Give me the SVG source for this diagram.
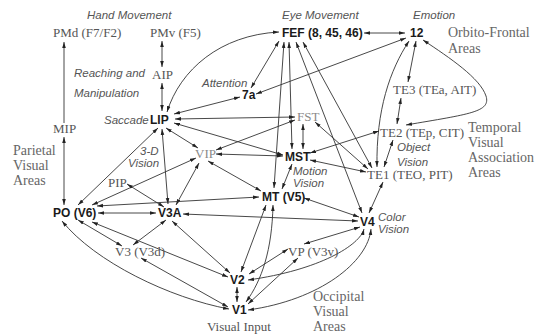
<svg xmlns="http://www.w3.org/2000/svg" width="535" height="335" viewBox="0 0 535 335">
<style>
.b{font-family:"Liberation Sans",Arial,sans-serif;font-weight:bold;font-size:12px;fill:#1a1a1a}
.s{font-family:"Liberation Serif","Times New Roman",serif;font-size:13px;fill:#555}
.l{fill:#8a8a8a}
.i{font-family:"Liberation Sans",Arial,sans-serif;font-style:italic;font-size:11.5px;fill:#555}
.r{font-family:"Liberation Serif","Times New Roman",serif;font-size:14px;fill:#666}
.e{fill:none;stroke:#333;stroke-width:0.9;marker-start:url(#a);marker-end:url(#a)}
.e1{fill:none;stroke:#333;stroke-width:0.9;marker-end:url(#a)}
</style>
<defs>
<marker id="a" viewBox="0 0 10 10" refX="10" refY="5" markerWidth="6" markerHeight="6" orient="auto-start-reverse" markerUnits="userSpaceOnUse"><path d="M0,2 L10,5 L0,8 z" fill="#222"/></marker>
</defs>
<rect width="535" height="335" fill="#fff"/>
<g id="connectors">
<path class="e1" d="M64,123 L64,42"/>
<path class="e" d="M64,137 L64,205"/>
<path class="e" d="M162,41 L162,67"/>
<path class="e" d="M162,83 L162,111"/>
<path class="e" d="M167,112 C180,70 220,35 279,32"/>
<path class="e" d="M364,33 L405,33"/>
<path class="e" d="M279,41 L251,88"/>
<path class="e" d="M406,38 L256,94"/>
<path class="e" d="M284,42 L274,188"/>
<path class="e" d="M289,42 L292,149"/>
<path class="e" d="M296,42 L362,213"/>
<path class="e" d="M303,42 L372,168"/>
<path class="e" d="M416,41 L408,82"/>
<path class="e" d="M409,41 C390,70 376,110 377,167"/>
<path class="e" d="M423,40 C450,58 480,78 486,96 C491,112 470,114 406,125"/>
<path class="e" d="M401,98 L397,124"/>
<path class="e" d="M393,140 L384,167"/>
<path class="e" d="M383,182 L369,213"/>
<path class="e" d="M310,153 L379,131"/>
<path class="e" d="M310,160 L366,172"/>
<path class="e" d="M315,122 L368,169"/>
<path class="e" d="M303,124 L303,149"/>
<path class="e" d="M175,119 L295,117"/>
<path class="e" d="M174,114 L240,97"/>
<path class="e" d="M174,123 L283,155"/>
<path class="e" d="M166,128 L198,148"/>
<path class="e" d="M162,129 L168,204"/>
<path class="e" d="M158,128 L78,205"/>
<path class="e" d="M216,154 L283,156"/>
<path class="e" d="M295,120 L216,150"/>
<path class="e" d="M92,205 L196,158"/>
<path class="e" d="M208,161 L261,191"/>
<path class="e" d="M199,163 L176,205"/>
<path class="e" d="M292,164 L282,189"/>
<path class="e" d="M97,206 L259,197"/>
<path class="e" d="M98,213 L156,213"/>
<path class="e" d="M127,184 L164,207"/>
<path class="e" d="M358,221 L183,214"/>
<path class="e" d="M359,217 L304,198"/>
<path class="e" d="M78,220 L122,246"/>
<path class="e" d="M166,220 L133,245"/>
<path class="e" d="M92,222 L228,277"/>
<path class="e" d="M172,221 L230,273"/>
<path class="e" d="M62,221 C95,262 170,298 229,309"/>
<path class="e" d="M141,258 L228,307"/>
<path class="e" d="M237,287 L237,302"/>
<path class="e" d="M266,205 L241,272"/>
<path class="e" d="M273,205 C272,250 262,280 246,302"/>
<path class="e" d="M288,249 L249,274"/>
<path class="e" d="M298,258 L248,304"/>
<path class="e" d="M360,227 L304,244"/>
<path class="e" d="M364,229 C360,245 320,270 248,280"/>
<path class="e" d="M371,229 C368,262 320,300 248,310"/>
</g>
<g id="PMd"><text class="s" x="53" y="37">PMd (F7/F2)</text></g>
<g id="PMv"><text class="s" x="150" y="37">PMv (F5)</text></g>
<g id="AIP"><text class="s" x="152" y="79">AIP</text></g>
<g id="FEF"><text class="b" x="282" y="37">FEF (8, 45, 46)</text></g>
<g id="A12"><text class="b" x="410" y="37">12</text></g>
<g id="A7a"><text class="b" x="242" y="99">7a</text></g>
<g id="TE3"><text class="s" x="393" y="94">TE3 (TEa, AIT)</text></g>
<g id="LIP"><text class="b" x="150" y="124">LIP</text></g>
<g id="MIP"><text class="s" x="53" y="133">MIP</text></g>
<g id="FST"><text class="s l" x="297" y="121">FST</text></g>
<g id="VIP"><text class="s l" x="195" y="158">VIP</text></g>
<g id="MST"><text class="b" x="285" y="161">MST</text></g>
<g id="TE2"><text class="s" x="380" y="137">TE2 (TEp, CIT)</text></g>
<g id="TE1"><text class="s" x="367" y="179">TE1 (TEO, PIT)</text></g>
<g id="PIP"><text class="s" x="108" y="187">PIP</text></g>
<g id="PO"><text class="b" x="53" y="217">PO (V6)</text></g>
<g id="V3A"><text class="b" x="158" y="217">V3A</text></g>
<g id="MT"><text class="b" x="262" y="201">MT (V5)</text></g>
<g id="V4"><text class="b" x="360" y="226">V4</text></g>
<g id="V3"><text class="s" x="115" y="256">V3 (V3d)</text></g>
<g id="VP"><text class="s" x="288" y="256">VP (V3v)</text></g>
<g id="V2"><text class="b" x="230" y="284">V2</text></g>
<g id="V1"><text class="b" x="232" y="314">V1</text></g>
<g id="labels">
<text class="s" x="207" y="331">Visual Input</text>
<text class="i" x="87" y="19">Hand Movement</text>
<text class="i" x="282" y="19">Eye Movement</text>
<text class="i" x="413" y="19">Emotion</text>
<text class="i" x="74" y="77">Reaching and</text>
<text class="i" x="74" y="97">Manipulation</text>
<text class="i" x="202" y="87">Attention</text>
<text class="i" x="104" y="124">Saccade</text>
<text class="i" x="140" y="155">3-D</text>
<text class="i" x="128" y="167">Vision</text>
<text class="i" x="293" y="175">Motion</text>
<text class="i" x="293" y="187">Vision</text>
<text class="i" x="397" y="151">Object</text>
<text class="i" x="397" y="166">Vision</text>
<text class="i" x="378" y="221">Color</text>
<text class="i" x="378" y="233">Vision</text>
<text class="r" x="448" y="37">Orbito-Frontal</text>
<text class="r" x="448" y="53">Areas</text>
<text class="r" x="13" y="155">Parietal</text>
<text class="r" x="13" y="170">Visual</text>
<text class="r" x="13" y="185">Areas</text>
<text class="r" x="468" y="132">Temporal</text>
<text class="r" x="468" y="147">Visual</text>
<text class="r" x="468" y="162">Association</text>
<text class="r" x="468" y="177">Areas</text>
<text class="r" x="313" y="301">Occipital</text>
<text class="r" x="313" y="316">Visual</text>
<text class="r" x="313" y="331">Areas</text>
</g>
</svg>
